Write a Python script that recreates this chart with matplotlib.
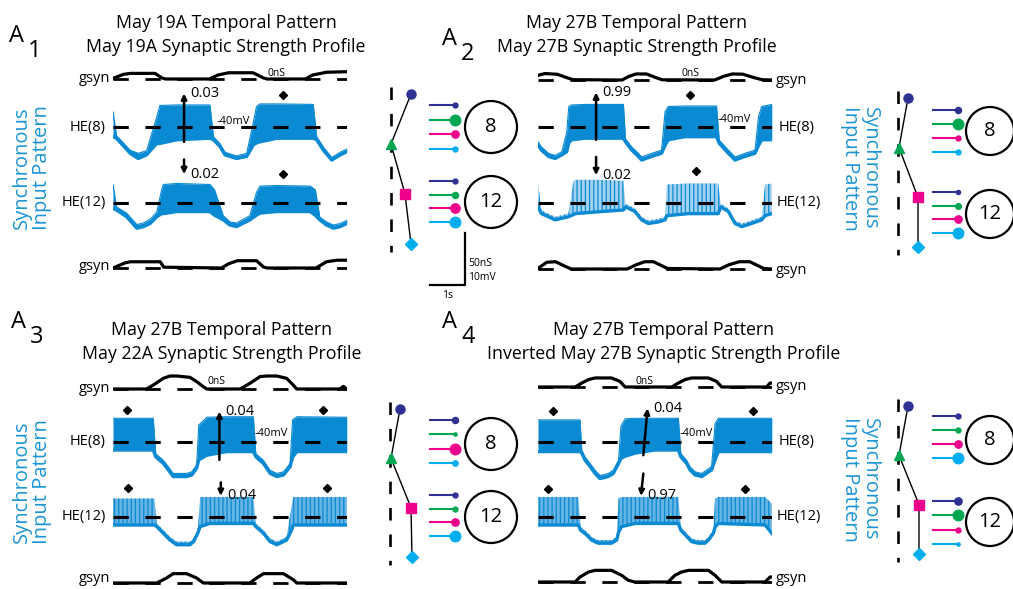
import numpy as np
from matplotlib import pyplot as plt
from matplotlib.patches import Circle

plt.rcParams['font.family'] = ['Open Sans', 'DejaVu Sans']
plt.rcParams['lines.scale_dashes'] = False
plt.rcParams['hatch.linewidth'] = 0.9

W, H = 1013, 589
BLUE = '#0a8ad2'
LABEL_BLUE = '#1b95d5'
INPUT_COLORS = ['#2e3192', '#00a651', '#ec008c', '#00aeef']
INPUT_MARKERS = ['o', '^', 's', 'D']

PX_PER_S = 35.0     # 1 s scale bar
PX_PER_MV = 5.2     # 10 mV scale bar
PX_PER_NS = 1.04    # 50 nS scale bar
DURATION = 6.68

titles = [('May 19A Temporal Pattern', 'May 19A Synaptic Strength Profile'),
          ('May 27B Temporal Pattern', 'May 27B Synaptic Strength Profile'),
          ('May 27B Temporal Pattern', 'May 22A Synaptic Strength Profile'),
          ('May 27B Temporal Pattern', 'Inverted May 27B Synaptic Strength Profile')]
phase8 = ['0.03', '0.99', '0.04', '0.04']
phase12 = ['0.02', '0.02', '0.04', '0.97']

# ---------------- A1 traces
a1_he8_t = [0.00, 0.10, 0.49, 0.72, 0.96, 1.25, 1.34, 1.82, 2.77, 2.87, 3.06, 3.20, 3.53, 3.82, 4.01, 4.10, 4.20, 4.68, 5.72, 5.82, 6.01, 6.25, 6.49, 6.68]
a1_he8_lo = [-41.8, -42.1, -45.0, -46.0, -45.3, -43.1, -43.1, -42.4, -42.1, -42.4, -43.7, -45.3, -46.0, -45.6, -43.4, -43.0, -42.8, -42.1, -42.1, -42.4, -44.4, -46.3, -45.3, -44.7]
a1_he8_hi = [-37.0, -41.6, -44.4, -45.0, -44.5, -38.0, -35.8, -35.7, -35.7, -41.8, -43.2, -44.8, -45.5, -45.0, -39.0, -36.0, -35.5, -35.5, -35.6, -41.8, -43.8, -45.8, -44.8, -44.2]
a1_he12_t = [0.00, 0.10, 0.39, 0.68, 0.87, 1.06, 1.25, 1.39, 1.44, 1.82, 2.77, 2.90, 3.15, 3.34, 3.53, 3.91, 4.10, 4.20, 4.68, 5.63, 5.78, 5.91, 6.10, 6.30, 6.49, 6.68]
a1_he12_lo = [-41.1, -41.4, -42.7, -44.9, -44.6, -44.0, -42.7, -42.1, -42.1, -41.7, -41.7, -42.4, -43.3, -44.3, -44.6, -43.3, -42.4, -42.0, -41.7, -41.7, -42.4, -43.3, -44.3, -44.9, -44.6, -44.0]
a1_he12_hi = [-36.5, -40.8, -42.0, -44.2, -43.9, -43.2, -41.8, -37.5, -36.5, -36.3, -36.5, -37.5, -42.5, -43.7, -43.9, -42.5, -38.0, -36.8, -36.7, -36.8, -37.5, -42.8, -43.7, -44.3, -44.0, -43.4]
a1_g8_t = [0.00, 0.30, 0.50, 1.20, 1.40, 1.50, 2.75, 3.00, 3.30, 4.00, 4.30, 4.40, 5.50, 5.70, 6.10, 6.68]
a1_g8 = [0.6, 4.5, 5.4, 5.4, 1.0, 0.0, 0.0, 3.8, 6.0, 6.0, 1.0, 0.0, 0.0, 3.8, 6.5, 7.0]
a1_g12_t = [0.00, 0.35, 0.50, 1.35, 1.45, 3.10, 3.30, 3.55, 4.10, 4.30, 4.40, 5.80, 6.10, 6.40, 6.68]
a1_g12 = [0.0, 5.0, 6.0, 6.0, 0.8, 0.0, 4.0, 7.0, 7.0, 1.0, 0.0, 0.0, 6.0, 7.5, 7.5]

# ---------------- A2 traces
a2_he8_t = [0.00, 0.10, 0.30, 0.49, 0.68, 0.82, 0.88, 0.96, 1.34, 2.44, 2.50, 2.68, 2.87, 2.96, 3.25, 3.53, 3.63, 3.72, 4.20, 5.10, 5.18, 5.44, 5.63, 5.91, 6.20, 6.30, 6.39, 6.68]
a2_he8_lo = [-43.4, -44.4, -45.6, -46.0, -45.3, -44.7, -43.0, -42.4, -42.1, -42.1, -42.8, -44.4, -45.6, -46.3, -45.6, -45.0, -43.5, -42.4, -41.8, -41.8, -43.1, -45.0, -46.3, -45.6, -45.0, -43.5, -42.4, -42.4]
a2_he8_hi = [-42.8, -43.8, -45.0, -45.4, -44.7, -41.0, -36.0, -35.7, -35.6, -35.6, -42.2, -43.8, -45.0, -45.7, -45.0, -44.4, -37.0, -36.0, -35.9, -35.9, -42.5, -44.4, -45.7, -45.0, -44.4, -38.0, -36.0, -35.6]
a2_he12_t = [0.00, 0.10, 0.30, 0.49, 0.68, 0.87, 1.01, 1.06, 1.82, 2.44, 2.50, 2.77, 2.96, 3.15, 3.44, 3.63, 3.68, 4.30, 5.15, 5.22, 5.44, 5.63, 5.82, 6.10, 6.39, 6.49, 6.68]
a2_he12_lo = [-40.8, -42.1, -42.7, -43.3, -43.0, -42.7, -42.3, -42.1, -41.7, -41.4, -40.8, -41.7, -43.3, -44.0, -43.7, -43.3, -42.5, -42.1, -42.1, -40.8, -41.7, -44.0, -44.6, -44.0, -43.3, -42.5, -42.1]
a2_he12_hi = [-36.3, -41.5, -42.1, -42.7, -42.4, -42.0, -36.0, -35.6, -35.6, -35.8, -40.2, -41.1, -42.7, -43.4, -43.1, -42.7, -36.5, -36.3, -36.3, -40.2, -41.1, -43.4, -44.0, -43.4, -42.7, -36.5, -36.3]
a2_g8_t = [0.00, 0.20, 0.55, 0.80, 1.00, 2.40, 2.60, 2.80, 3.10, 3.35, 3.55, 5.05, 5.30, 5.55, 5.85, 6.15, 6.40, 6.68]
a2_g8 = [4.5, 6.2, 5.5, 2.5, 0.3, 0.0, 3.5, 5.8, 5.8, 2.5, 0.2, 0.0, 3.5, 5.8, 5.6, 2.5, 0.3, 0.0]
a2_g12_t = [0.00, 0.25, 0.50, 0.75, 0.95, 2.55, 2.80, 3.05, 3.30, 3.70, 5.20, 5.45, 5.75, 6.05, 6.45, 6.68]
a2_g12 = [0.5, 6.5, 7.0, 3.0, 0.0, 0.0, 4.0, 7.0, 7.0, 0.5, 0.0, 4.0, 7.0, 7.0, 0.5, 0.0]

# ---------------- A3 traces
a3_he8_t = [0.00, 1.15, 1.22, 1.44, 1.58, 1.72, 2.10, 2.25, 2.39, 2.45, 2.68, 3.25, 4.01, 4.08, 4.30, 4.49, 4.68, 4.87, 5.06, 5.13, 5.25, 6.68]
a3_he8_lo = [-41.6, -41.6, -42.9, -44.2, -45.4, -46.7, -46.7, -46.4, -45.1, -43.5, -42.6, -41.9, -41.9, -42.9, -44.2, -46.1, -46.7, -46.4, -44.8, -43.0, -41.9, -41.9]
a3_he8_hi = [-35.5, -35.5, -42.3, -43.6, -44.8, -46.1, -46.1, -45.8, -44.5, -36.8, -35.3, -35.2, -35.2, -42.3, -43.6, -45.5, -46.1, -45.8, -44.2, -35.8, -35.2, -35.3]
a3_he12_t = [0.00, 1.18, 1.25, 1.44, 1.63, 1.82, 2.20, 2.30, 2.42, 2.49, 2.77, 4.01, 4.08, 4.30, 4.49, 4.68, 4.96, 5.10, 5.15, 6.68]
a3_he12_lo = [-41.6, -41.6, -41.9, -43.2, -44.5, -45.4, -45.4, -44.8, -43.2, -41.9, -41.3, -41.3, -41.9, -43.2, -44.8, -45.4, -44.5, -42.6, -41.6, -41.6]
a3_he12_hi = [-36.5, -36.5, -41.3, -42.6, -43.9, -44.8, -44.8, -44.2, -42.6, -36.2, -36.2, -36.2, -41.3, -42.6, -44.2, -44.8, -43.9, -38.0, -36.2, -36.2]
a3_g8_t = [0.00, 0.96, 1.15, 1.44, 1.63, 1.82, 2.20, 2.39, 2.58, 2.68, 3.63, 3.91, 4.20, 4.39, 4.68, 4.96, 5.15, 5.25, 6.49, 6.58, 6.68]
a3_g8 = [0.0, 0.0, 3.8, 10.3, 12.5, 12.5, 11.2, 7.1, 2.2, 0.0, 0.0, 5.4, 11.9, 12.5, 12.5, 10.3, 3.8, 0.0, 0.0, 2.5, 0.0]
a3_g12_t = [0.00, 1.25, 1.53, 1.72, 2.10, 2.39, 2.58, 3.91, 4.10, 4.30, 4.87, 5.15, 5.25, 6.68]
a3_g12 = [0.0, 0.0, 4.8, 9.0, 9.0, 4.8, 0.0, 0.0, 4.8, 9.0, 9.0, 3.2, 0.0, 0.0]

# ---------------- A4 traces
a4_he8_t = [0.00, 1.20, 1.25, 1.34, 1.49, 1.63, 1.77, 2.01, 2.15, 2.30, 2.37, 2.49, 2.77, 3.34, 4.01, 4.08, 4.25, 4.34, 4.49, 4.68, 4.96, 5.06, 5.15, 6.68]
a4_he8_lo = [-41.9, -41.9, -42.2, -43.5, -44.8, -46.1, -47.1, -46.7, -46.1, -44.2, -43.2, -42.8, -42.2, -41.6, -41.6, -42.9, -44.2, -45.4, -46.4, -46.7, -45.4, -43.5, -41.9, -41.9]
a4_he8_hi = [-35.8, -35.8, -41.6, -42.9, -44.2, -45.5, -46.5, -46.1, -45.5, -43.6, -37.0, -35.6, -35.5, -35.5, -35.5, -42.3, -43.6, -44.8, -45.8, -46.1, -44.8, -36.5, -35.5, -35.5]
a4_he12_t = [0.00, 1.15, 1.22, 1.39, 1.53, 1.72, 2.10, 2.25, 2.30, 2.39, 2.77, 4.01, 4.08, 4.25, 4.39, 4.58, 4.77, 4.87, 5.01, 5.06, 5.15, 6.49, 6.68]
a4_he12_lo = [-41.6, -41.6, -42.6, -43.5, -44.5, -45.1, -45.1, -44.5, -43.0, -41.9, -41.3, -41.3, -42.6, -43.8, -44.8, -45.1, -45.1, -44.5, -43.2, -42.0, -41.3, -41.6, -43.2]
a4_he12_hi = [-36.2, -36.2, -42.0, -42.9, -43.9, -44.5, -44.5, -43.9, -36.5, -36.2, -36.2, -36.2, -42.0, -43.2, -44.2, -44.5, -44.5, -43.9, -42.6, -36.5, -36.2, -36.2, -37.5]
a4_g8_t = [0.00, 1.06, 1.25, 1.44, 1.63, 2.10, 2.34, 2.49, 3.82, 4.01, 4.20, 4.39, 4.87, 5.10, 5.25, 6.53, 6.63, 6.68]
a4_g8 = [0.0, 0.0, 3.8, 7.1, 8.7, 8.7, 5.4, 0.0, 0.0, 3.8, 7.1, 8.7, 8.7, 5.4, 0.0, 0.0, 3.8, 3.8]
a4_g12_t = [0.00, 1.06, 1.20, 1.44, 1.63, 2.10, 2.39, 2.58, 2.77, 3.72, 3.91, 4.10, 4.30, 4.87, 5.06, 5.25, 6.49, 6.63, 6.68]
a4_g12 = [0.0, 0.0, 4.8, 9.6, 11.2, 11.2, 6.4, 1.6, 0.0, 0.0, 6.4, 9.6, 11.2, 11.2, 6.4, 0.0, 0.0, 4.8, 4.8]

# cycle markers (diamonds) and phase arrows: (time s, mV)
diam8 = [[(4.85, -33.8)], [(4.34, -33.7)], [(0.39, -33.9), (6.01, -33.9)], [(0.44, -34.0), (6.15, -34.0)]]
diam12 = [[(4.85, -34.5)], [(4.50, -33.9)], [(0.44, -34.5), (6.10, -34.5)], [(0.28, -34.7), (5.91, -34.7)]]
arrow8 = [(2.03, -42.8, 2.03, -33.5), (1.66, -42.4, 1.66, -33.3), (3.04, -43.5, 3.04, -34.2), (3.01, -42.6, 3.13, -33.6)]
arrow12 = [(2.03, -31.7, 2.03, -34.5), (1.66, -31.2, 1.66, -34.7), (3.08, -33.4, 3.08, -36.0), (3.01, -31.7, 2.94, -36.0)]

# synaptic strength profile (relative offset) and input weights onto HE(8)/HE(12)
profile = [[1.0, 0.0, 0.7, 1.0], [0.5, 0.05, 1.0, 1.0], [0.5, 0.05, 1.05, 1.1], [0.5, 0.05, 1.05, 1.05]]
weights8 = [[0.3, 1.0, 0.6, 0.3], [0.45, 1.0, 0.3, 0.3], [0.45, 0.1, 1.0, 0.35], [0.3, 0.3, 0.6, 1.0]]
weights12 = [[0.3, 0.45, 0.85, 1.0], [0.2, 0.4, 0.6, 1.0], [0.3, 0.3, 0.6, 1.0], [0.6, 1.0, 0.3, 0.1]]

traces = [
    (a1_g8_t, a1_g8, a1_he8_t, a1_he8_lo, a1_he8_hi, a1_he12_t, a1_he12_lo, a1_he12_hi, a1_g12_t, a1_g12),
    (a2_g8_t, a2_g8, a2_he8_t, a2_he8_lo, a2_he8_hi, a2_he12_t, a2_he12_lo, a2_he12_hi, a2_g12_t, a2_g12),
    (a3_g8_t, a3_g8, a3_he8_t, a3_he8_lo, a3_he8_hi, a3_he12_t, a3_he12_lo, a3_he12_hi, a3_g12_t, a3_g12),
    (a4_g8_t, a4_g8, a4_he8_t, a4_he8_lo, a4_he8_hi, a4_he12_t, a4_he12_lo, a4_he12_hi, a4_g12_t, a4_g12),
]
# fill between spikes of HE(12) bursts (None = dense burst)
spike_fill12 = [None, '#a3d2f0', '#66b4e4', '#66b4e4']

# layout (pixels)
layout = [
    dict(x0=113, ys=(79, 127.3, 202.7, 268), side='left', tx=226, ty=23, sch=(391, 94, 50), lol=430,
         l8=(105, 149), l12=(181, 222), c8=(491, 127), c12=(491, 202), sync=(32, 168), lab=(9, 42),
         mv=(217, 121), ns=(268, 73), r=26),
    dict(x0=538, ys=(80, 127.3, 202.7, 269), side='right', tx=637, ty=23, sch=(898, 98, 49.7), lol=933,
         l8=(110, 152), l12=(192, 233), c8=(990, 131), c12=(990, 214), sync=(860, 168), lab=(442, 45),
         mv=(718, 120), ns=(682, 73), r=24),
    dict(x0=113, ys=(389, 441.7, 516.7, 583), side='left', tx=222, ty=330, sch=(390, 409, 49.3), lol=430,
         l8=(420, 463), l12=(495, 536), c8=(491, 444), c12=(491, 517), sync=(32, 482), lab=(11, 328),
         mv=(255, 433), ns=(208, 382), r=26),
    dict(x0=538, ys=(387, 441.7, 516.7, 582), side='right', tx=664, ty=330, sch=(898, 406, 49.3), lol=933,
         l8=(416, 458), l12=(501, 544), c8=(990, 440), c12=(990, 522), sync=(860, 479), lab=(442, 328),
         mv=(680, 433), ns=(635, 382), r=24),
]

fig = plt.figure(figsize=(W / 100, H / 100), dpi=100)


def px_axes(x, y, w, h):
    ax = fig.add_axes([x / W, 1 - (y + h) / H, w / W, h / H])
    ax.axis('off')
    return ax


def trace_axes(x0, yref, above, below, per_unit, ref):
    ax = px_axes(x0, yref - above, DURATION * PX_PER_S, above + below)
    ax.set_xlim(0, DURATION)
    ax.set_ylim(ref - below / per_unit, ref + above / per_unit)
    return ax


def draw_he(ax, t, lo, hi, fill):
    if fill is not None:
        ax.fill_between(t, lo, hi, facecolor=fill, edgecolor=BLUE, hatch='||||', lw=0)
    else:
        ax.fill_between(t, lo, hi, color=BLUE, lw=0)
        ax.plot(t, hi, color=BLUE, lw=0.8)
    ax.plot(t, lo, color=BLUE, lw=2.4)
    ax.axhline(-40, color='k', lw=2.2, dashes=(11, 12), zorder=5)


def draw_g(ax, t, g):
    ax.axhline(0, color='k', lw=2.0, dashes=(11, 12), zorder=1)
    ax.plot(t, g, color='k', lw=2.3, zorder=2)


ov = fig.add_axes([0, 0, 1, 1])
ov.set_xlim(0, W)
ov.set_ylim(H, 0)
ov.axis('off')
ov.set_zorder(10)

for p in range(4):
    L = layout[p]
    g8t, g8, h8t, h8lo, h8hi, h12t, h12lo, h12hi, g12t, g12 = traces[p]
    yg8, yh8, yh12, yg12 = L['ys']

    axg8 = trace_axes(L['x0'], yg8, 22, 6, PX_PER_NS, 0)
    draw_g(axg8, g8t, g8)
    axh8 = trace_axes(L['x0'], yh8, 45, 50, PX_PER_MV, -40)
    draw_he(axh8, h8t, h8lo, h8hi, None)
    axh12 = trace_axes(L['x0'], yh12, 45, 50, PX_PER_MV, -40)
    draw_he(axh12, h12t, h12lo, h12hi, spike_fill12[p])
    axg12 = trace_axes(L['x0'], yg12, 22, 6, PX_PER_NS, 0)
    draw_g(axg12, g12t, g12)

    # cycle markers and phase arrows
    for ax, dm, ar, ph in [(axh8, diam8[p], arrow8[p], phase8[p]), (axh12, diam12[p], arrow12[p], phase12[p])]:
        for (t, v) in dm:
            ax.plot(t, v, 'D', color='k', ms=4, clip_on=False, zorder=6)
        ax.annotate('', xy=(ar[2], ar[3]), xytext=(ar[0], ar[1]), annotation_clip=False,
                    arrowprops=dict(arrowstyle='-|>', color='k', lw=1.8, mutation_scale=8,
                                    shrinkA=0, shrinkB=0), zorder=6)
        ax.text(ar[2] + 0.17, ar[3], ph, fontsize=10.5, va='center', ha='left', clip_on=False, zorder=7)

    # titles and panel labels
    ov.text(L['tx'], L['ty'], titles[p][0], ha='center', va='center', fontsize=12.8)
    ov.text(L['tx'], L['ty'] + 24, titles[p][1], ha='center', va='center', fontsize=12.8)
    lx, ly = L['lab']
    ov.text(lx, ly, 'A', fontsize=17, va='baseline')
    ov.text(lx + 19, ly + 15, str(p + 1), fontsize=17, va='baseline')

    ov.text(L['mv'][0], L['mv'][1], '-40mV', fontsize=8, va='center', ha='left')
    ov.text(L['ns'][0], L['ns'][1], '0nS', fontsize=7.5, va='center', ha='left')

    # trace labels
    if L['side'] == 'left':
        ov.text(110, yg8, 'gsyn', ha='right', va='center', fontsize=10.5)
        ov.text(106, yh8, 'HE(8)', ha='right', va='center', fontsize=10.5)
        ov.text(106, yh12, 'HE(12)', ha='right', va='center', fontsize=10.5)
        ov.text(110, min(yg12 - 1, 578), 'gsyn', ha='right', va='center', fontsize=10.5)
        rot = 90
    else:
        ov.text(776, yg8, 'gsyn', ha='left', va='center', fontsize=10.5)
        ov.text(779, yh8, 'HE(8)', ha='left', va='center', fontsize=10.5)
        ov.text(777, yh12, 'HE(12)', ha='left', va='center', fontsize=10.5)
        ov.text(776, min(yg12 + 2, 578), 'gsyn', ha='left', va='center', fontsize=10.5)
        rot = 270
    ov.text(L['sync'][0], L['sync'][1], 'Synchronous\nInput Pattern', rotation=rot, ha='center',
            va='center', color=LABEL_BLUE, fontsize=14.5, linespacing=1.0, multialignment='center')

    # synaptic strength profile schematic
    sx, sy, sp = L['sch']
    sch = px_axes(sx, sy, 20, 3 * sp)
    sch.set_xlim(0, 1)
    sch.set_ylim(3, 0)
    idx = np.arange(4)
    sch.plot([0, 0], [-0.14, 3.16], color='k', lw=1.9, dashes=(9, 10), clip_on=False)
    sch.plot(profile[p], idx, color='k', lw=1.0, clip_on=False)
    for i in range(4):
        sch.plot(profile[p][i], i, marker=INPUT_MARKERS[i], color=INPUT_COLORS[i],
                 ms=[6.5, 7, 7, 6][i], clip_on=False, zorder=3)

    # input weights onto each HE cell
    for (y0, y1), w, (cx, cy), name in [(L['l8'], weights8[p], L['c8'], '8'),
                                          (L['l12'], weights12[p], L['c12'], '12')]:
        lol = px_axes(L['lol'], y0, 25, y1 - y0)
        lol.set_xlim(0, 1)
        lol.set_ylim(3, 0)
        for i in range(4):
            lol.plot([0, 1], [i, i], color=INPUT_COLORS[i], lw=1.5, clip_on=False)
            lol.plot(1, i, 'o', color=INPUT_COLORS[i], ms=(2.5 + 8 * w[i]) * 0.72, clip_on=False)
        ov.add_patch(Circle((cx, cy), L['r'], fill=False, lw=1.6, ec='k'))
        ov.text(cx, cy, name, ha='center', va='center', fontsize=14.5)

# scale bar drawn in the A2 HE(12) frame: 1 s and 10 mV (50 nS)
sb = trace_axes(layout[1]['x0'], layout[1]['ys'][2], 45, 50, PX_PER_MV, -40)
sb.plot([-3.09, -2.09, -2.09], [-55.8, -55.8, -45.8], color='k', lw=1.6, clip_on=False)
ov.text(468, 263, '50nS', fontsize=7.5, va='center')
ov.text(468, 277, '10mV', fontsize=7.5, va='center')
ov.text(448, 296, '1s', fontsize=7.5, va='center', ha='center')

fig.savefig('out.png', dpi=100)
